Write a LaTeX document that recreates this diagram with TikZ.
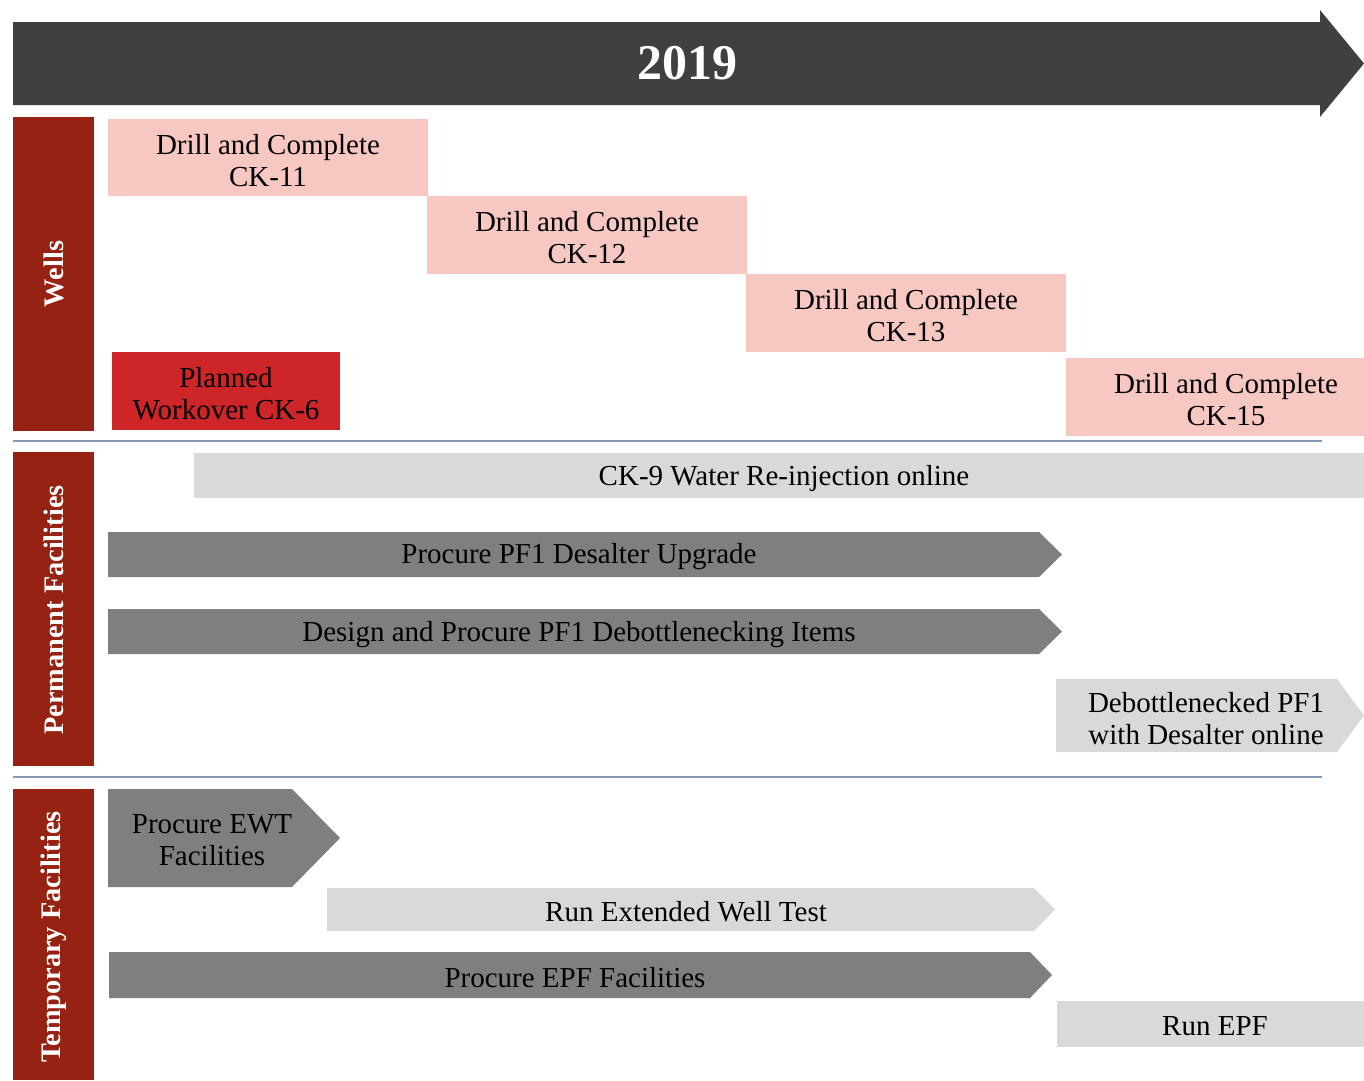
\documentclass[tikz,border=0pt]{standalone}
\usepackage{fontspec}
\setmainfont{Liberation Serif}
\definecolor{hdr}{HTML}{41403E}
\definecolor{catred}{HTML}{952212}
\definecolor{pinkbox}{HTML}{F7C7C2}
\definecolor{redbox}{HTML}{CD2528}
\definecolor{darkbar}{HTML}{7F7F7F}
\definecolor{lightbar}{HTML}{D9D9D9}
\definecolor{sepline}{HTML}{8497B0}
\tikzset{
  cat/.style={text=white, font=\bfseries\fontsize{28.3}{32}\selectfont, rotate=90, inner sep=0pt},
  txt/.style={font=\fontsize{29}{32}\selectfont, align=center, inner sep=0pt, text=black, yshift=-2.5pt},
  sep/.style={draw=sepline, line width=2pt},
}
\begin{document}
\begin{tikzpicture}[x=1pt,y=-1pt]
\useasboundingbox (0,0) rectangle (1364,1080);
% header arrow
\fill[hdr] (13,22) -- (1320,22) -- (1320,10) -- (1364,63.5) -- (1320,117) -- (1320,105) -- (13,105) -- cycle;
\node[inner sep=0pt, text=white, font=\bfseries\fontsize{50}{56}\selectfont] (year) at (687,63) {2019};
% category bands
\fill[catred] (13,117) rectangle (94,431);
\fill[catred] (13,452) rectangle (94,766);
\fill[catred] (13,789) rectangle (94,1080);
\node[cat] (wells) at (53.5,274) {Wells};
\node[cat] (perm) at (53.5,610) {Permanent Facilities};
\node[cat] (temp) at (53.5,937) {Temporary Facilities};
% separators
\draw[sep] (13,441) -- (1322,441);
\draw[sep] (13,777) -- (1322,777);
% wells boxes
\fill[pinkbox] (108,119) rectangle (428,196);
\fill[pinkbox] (427,196) rectangle (747,274);
\fill[pinkbox] (746,274) rectangle (1066,352);
\fill[pinkbox] (1066,358) rectangle (1364,436);
\fill[redbox] (112,352) rectangle (340,430);
\node[txt] (ck11) at (268,158) {Drill and Complete\\CK-11};
\node[txt] (ck12) at (587,235) {Drill and Complete\\CK-12};
\node[txt] (ck13) at (906,313) {Drill and Complete\\CK-13};
\node[txt] (ck15) at (1226,397) {Drill and Complete\\CK-15};
\node[txt] (wo6) at (226,391) {Planned\\Workover CK-6};
% permanent facilities
\fill[lightbar] (194,453) rectangle (1364,498);
\node[txt] (ck9) at (784,476) {CK-9 Water Re-injection online};
\fill[darkbar] (108,532) -- (1039,532) -- (1062,554.5) -- (1039,577) -- (108,577) -- cycle;
\node[txt] (desal) at (579,554) {Procure PF1 Desalter Upgrade};
\fill[darkbar] (108,609) -- (1039,609) -- (1062,631.5) -- (1039,654) -- (108,654) -- cycle;
\node[txt] (debot) at (579,632) {Design and Procure PF1 Debottlenecking Items};
\fill[lightbar] (1056,679) -- (1337,679) -- (1364,715.5) -- (1337,752) -- (1056,752) -- cycle;
\node[txt] (online) at (1206,716) {Debottlenecked PF1\\with Desalter online};
% temporary facilities
\fill[darkbar] (108,789) -- (292,789) -- (340,838) -- (292,887) -- (108,887) -- cycle;
\node[txt] (ewt) at (212,838) {Procure EWT\\Facilities};
\fill[lightbar] (327,888) -- (1034,888) -- (1055,909.5) -- (1034,931) -- (327,931) -- cycle;
\node[txt] (runewt) at (686,909) {Run Extended Well Test};
\fill[darkbar] (109,952) -- (1030,952) -- (1052,975) -- (1030,998) -- (109,998) -- cycle;
\node[txt] (epf) at (575,975) {Procure EPF Facilities};
\fill[lightbar] (1057,1001) rectangle (1364,1047);
\node[txt] (runepf) at (1215,1024) {Run EPF};
\end{tikzpicture}
\end{document}
